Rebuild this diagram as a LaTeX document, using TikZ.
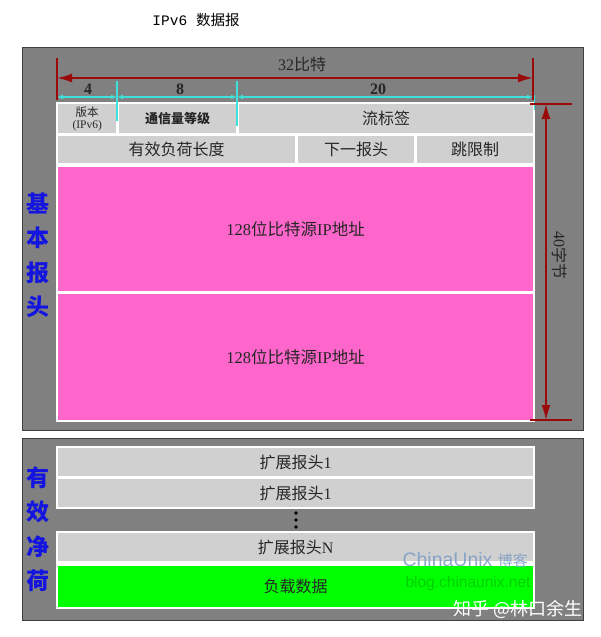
\documentclass[tikz,border=0pt]{standalone}
\usepackage{fontspec}
\setmainfont{Liberation Serif}
\newfontfamily\cjk{Noto Sans CJK SC}
\newfontfamily\mono{Liberation Mono}
\newfontfamily\wsans{Liberation Sans}
\usetikzlibrary{arrows.meta}
\definecolor{bgc}{HTML}{808080}
\definecolor{fldc}{HTML}{D0D0D0}
\definecolor{pkc}{HTML}{FF66CC}
\definecolor{grc}{HTML}{00FF00}
\definecolor{dred}{HTML}{9B0A0A}
\definecolor{cyc}{HTML}{3FE0DC}
\definecolor{lblc}{HTML}{1414E0}
\definecolor{txc}{HTML}{262626}
\definecolor{wmc}{HTML}{7A9CC4}
\begin{document}
\begin{tikzpicture}[x=1pt,y=-1pt,
  panel/.style={draw=black!75,line width=1pt,fill=bgc},
  fldbox/.style={fill=fldc,inner sep=0pt,anchor=north west,text=txc,font=\cjk\fontsize{16}{18}\selectfont},
  pkbox/.style={fldbox,fill=pkc,font=\cjk\fontsize{16.5}{18}\selectfont},
  grbox/.style={fldbox,fill=grc},
  extbox/.style={fldbox,font=\cjk\fontsize{16}{18}\selectfont},
  dimred/.style={draw=dred,line width=2pt},
  dimcy/.style={draw=cyc,line width=1.4pt},
  redtip/.style={{Latex[length=15pt,width=9pt]}-{Latex[length=15pt,width=9pt]}},
  cytip/.style={{Latex[length=6pt,width=5pt]}-{Latex[length=6pt,width=5pt]}},
  vlabel/.style={text=lblc,font=\cjk\bfseries\fontsize{23}{34.5}\selectfont,align=center},
  numlab/.style={text=txc,font=\bfseries\fontsize{16}{18}\selectfont}
]
\useasboundingbox (0,0) rectangle (600,637);
\fill[white] (0,0) rectangle (600,637);

% title
\node (title) at (196,20) {\fontsize{14.5}{16}\selectfont\mono IPv6 \cjk 数据报};

% panels
\path[panel] (22,47) rectangle (583,430);
\path[panel] (22,438) rectangle (583,620);

% white backgrounds
\fill[white] (56,102) rectangle (535,422);
\fill[white] (56,446) rectangle (535,509);
\fill[white] (56,531) rectangle (535,609);

% header fields
\node[fldbox,minimum width=58pt,minimum height=29pt,align=center,font=\fontsize{11.5}{12.5}\selectfont] (ver) at (58,104) {{\cjk 版本}\\(IPv6)};
\node[fldbox,minimum width=117pt,minimum height=29pt,font=\cjk\bfseries\fontsize{13}{14}\selectfont] (tc) at (119,104) {通信量等级};
\node[fldbox,minimum width=294pt,minimum height=29pt] (flow) at (239,104) {流标签};
\node[fldbox,minimum width=237pt,minimum height=27pt] (plen) at (58,136) {有效负荷长度};
\node[fldbox,minimum width=116pt,minimum height=27pt] (nh) at (298,136) {下一报头};
\node[fldbox,minimum width=116pt,minimum height=27pt] (hl) at (417,136) {跳限制};
\node[pkbox,minimum width=475pt,minimum height=124pt] (src) at (58,167) {\rmfamily 128{\cjk 位比特源}IP{\cjk 地址}};
\node[pkbox,minimum width=475pt,minimum height=126pt] (dst) at (58,294) {\rmfamily 128{\cjk 位比特源}IP{\cjk 地址}};

% extension headers
\node[extbox,minimum width=475pt,minimum height=28pt] (ext1) at (58,448) {扩展报头{\rmfamily 1}};
\node[extbox,minimum width=475pt,minimum height=28pt] (ext2) at (58,479) {扩展报头{\rmfamily 1}};
\node[extbox,minimum width=475pt,minimum height=28pt] (extn) at (58,533) {扩展报头{\rmfamily N}};
\node[grbox,minimum width=475pt,minimum height=41pt] (data) at (58,566) {负载数据};

% dots
\node[circle,fill=black,inner sep=0pt,minimum size=3.6pt] (dot1) at (296,513) {};
\node[circle,fill=black,inner sep=0pt,minimum size=3.6pt] (dot2) at (296,520) {};
\node[circle,fill=black,inner sep=0pt,minimum size=3.6pt] (dot3) at (296,527) {};

% vertical blue labels
\node[vlabel] (basic) at (38,255) {基\\本\\报\\头};
\node[vlabel] (payload) at (38,529) {有\\效\\净\\荷};

% top dimension (32 bits)
\coordinate (tL) at (57,78);
\coordinate (tR) at (533,78);
\coordinate (tLa) at (57,58);
\coordinate (tLb) at (57,100);
\coordinate (tRa) at (533,58);
\coordinate (tRb) at (533,100);
\draw[dimred] (tLa) -- (tLb);
\draw[dimred] (tRa) -- (tRb);
\draw[dimred,redtip] (tL) -- (tR);
\node[text=txc,font=\fontsize{16}{18}\selectfont] (bits) at (302,64) {32{\cjk 比特}};

% cyan bit dimensions
\coordinate (c0) at (57,97);
\coordinate (c1) at (117,97);
\coordinate (c2) at (237,97);
\coordinate (c3) at (533,97);
\coordinate (c1a) at (117,81);
\coordinate (c1b) at (117,121);
\coordinate (c2a) at (237,81);
\coordinate (c2b) at (237,126);
\coordinate (c3a) at (534,95);
\coordinate (c3b) at (534,110);
\draw[dimcy] (c1a) -- (c1b);
\draw[dimcy] (c2a) -- (c2b);
\draw[dimcy,line width=1pt] (c3a) -- (c3b);
\draw[dimcy,cytip] (c0) -- (c1);
\draw[dimcy,cytip] (c1) -- (c2);
\draw[dimcy,cytip] (c2) -- (c3);
\node[numlab] (n4) at (88,89) {4};
\node[numlab] (n8) at (180,89) {8};
\node[numlab] (n20) at (378,89) {20};

% right dimension (40 bytes)
\coordinate (rT) at (546,104);
\coordinate (rB) at (546,420);
\coordinate (rTa) at (530,104);
\coordinate (rTb) at (572,104);
\coordinate (rBa) at (530,420);
\coordinate (rBb) at (572,420);
\draw[dimred] (rTa) -- (rTb);
\draw[dimred] (rBa) -- (rBb);
\draw[dimred,line width=1.5pt,redtip] (rT) -- (rB);
\node[rotate=-90,text=txc,font=\fontsize{16}{18}\selectfont] (bytes) at (560,255) {40{\cjk 字节}};

% watermarks
\node[text=wmc,opacity=0.85,font=\wsans\fontsize{19.5}{21}\selectfont,anchor=west] (wm1) at (399,560) {ChinaUnix {\cjk\fontsize{15}{17}\selectfont 博客}};
\node[text=black,opacity=0.18,font=\wsans\fontsize{15.5}{17}\selectfont,anchor=west] (wm2) at (402,583) {blog.chinaunix.net};
\node[text=white,font=\cjk\fontsize{18}{20}\selectfont,anchor=east] (wm3) at (586,609) {知乎 @林口余生};
\end{tikzpicture}
\end{document}
